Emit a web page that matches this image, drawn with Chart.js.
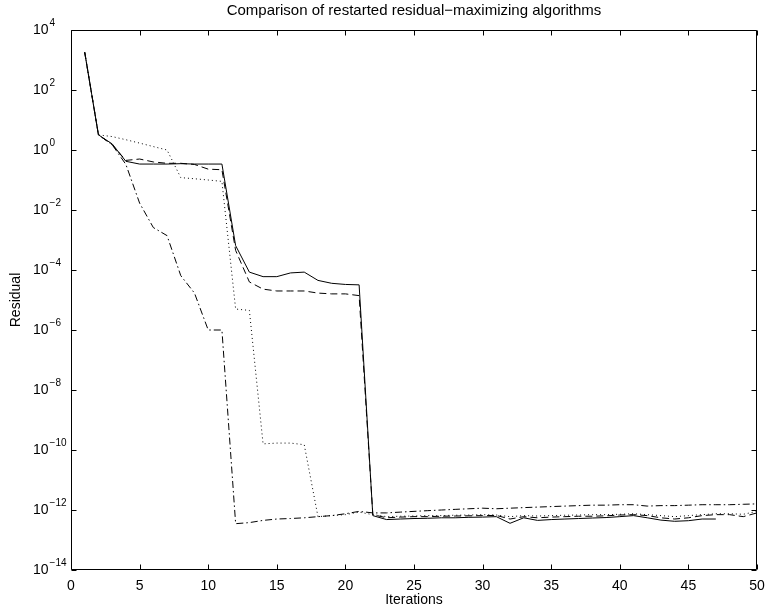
<!DOCTYPE html>
<html>
<head>
<meta charset="utf-8">
<script src="https://cdn.jsdelivr.net/npm/chart.js@4/dist/chart.umd.min.js"></script>
<style>
  html, body { margin: 0; padding: 0; background: #fff; }
  #wrap { width: 765px; height: 610px; position: relative; }
</style>
</head>
<body>
<div id="wrap"><canvas id="c" width="765" height="610"></canvas></div>
<script>
// ---- data ----
const iterations = Array.from({length: 50}, (_, i) => i + 1);

const solidResidual = [
  1800, 3.2, 1.6, 0.42, 0.34, 0.34, 0.34, 0.35, 0.34, 0.34,
  0.34, 6.5e-4, 8.5e-5, 6e-5, 6e-5, 8e-5, 8.5e-5, 4.5e-5, 3.6e-5, 3.3e-5,
  3.2e-5, 6.5e-13, 4.8e-13, 5e-13, 5.2e-13, 5.3e-13, 5.5e-13, 5.5e-13, 5.7e-13, 5.8e-13,
  6e-13, 3.6e-13, 5.5e-13, 4.5e-13, 4.8e-13, 5e-13, 5.2e-13, 5.4e-13, 5.6e-13, 6e-13,
  6.5e-13, 5.5e-13, 4.6e-13, 4.2e-13, 4.4e-13, 5e-13, 5e-13, null, null, null
];
const dashedResidual = [
  1800, 3.2, 1.5, 0.45, 0.5, 0.4, 0.36, 0.36, 0.33, 0.23,
  0.22, 4.5e-4, 4e-5, 2.3e-5, 2e-5, 2e-5, 2e-5, 1.7e-5, 1.6e-5, 1.6e-5,
  1.4e-5, 7e-13, 5.5e-13, 5.8e-13, 6e-13, 6e-13, 6.2e-13, 6.3e-13, 6.4e-13, 6.5e-13,
  6.6e-13, 5e-13, 6e-13, 5.5e-13, 5.8e-13, 6e-13, 6.2e-13, 6.2e-13, 6.4e-13, 6.8e-13,
  7e-13, 6.5e-13, 5.5e-13, 5e-13, 5.5e-13, 6.5e-13, 7e-13, 7e-13, 6e-13, 8e-13
];
const dottedResidual = [
  1800, 3.2, 2.8, 2.2, 1.7, 1.3, 1.0, 0.12, 0.11, 0.1,
  0.09, 5e-6, 4.5e-6, 1.6e-10, 1.7e-10, 1.7e-10, 1.5e-10, 6e-13, 6.5e-13, 7e-13,
  8.5e-13, 7e-13, 6e-13, 6.2e-13, 6.3e-13, 6.5e-13, 6.5e-13, 6.7e-13, 6.8e-13, 7e-13,
  6.8e-13, 6e-13, 6.5e-13, 6.3e-13, 6.5e-13, 6.7e-13, 6.8e-13, 7e-13, 7e-13, 7.2e-13,
  7.5e-13, 7e-13, 6.5e-13, 6e-13, 6.5e-13, 7e-13, 7.5e-13, 7.5e-13, 7.2e-13, 9e-13
];
const dashDotResidual = [
  1800, 3.2, 1.5, 0.33, 0.017, 2.6e-3, 1.4e-3, 6.5e-5, 1.7e-5, 1e-6,
  1e-6, 3.5e-13, 3.8e-13, 4.5e-13, 5e-13, 5.2e-13, 5.5e-13, 6e-13, 6.5e-13, 7.5e-13,
  9e-13, 8e-13, 8e-13, 8.5e-13, 9e-13, 9.5e-13, 1e-12, 1.05e-12, 1.1e-12, 1.15e-12,
  1.1e-12, 1.15e-12, 1.2e-12, 1.25e-12, 1.3e-12, 1.35e-12, 1.4e-12, 1.45e-12, 1.45e-12, 1.5e-12,
  1.5e-12, 1.35e-12, 1.4e-12, 1.4e-12, 1.45e-12, 1.5e-12, 1.5e-12, 1.5e-12, 1.55e-12, 1.6e-12
];

const xTickValues = [0, 5, 10, 15, 20, 25, 30, 35, 40, 45, 50];
const yTickExponents = [4, 2, 0, -2, -4, -6, -8, -10, -12, -14];

const chartTitle = 'Comparison of restarted residual\u2212maximizing algorithms';
const xLabel = 'Iterations';
const yLabel = 'Residual';

// ---- build ----
const FONT = "'Liberation Sans', Arial, Helvetica, sans-serif";
const toPoints = arr => iterations.map((it, i) => ({x: it, y: arr[i]}));

function ds(label, arr, dash) {
  return {
    label, data: toPoints(arr),
    borderColor: '#000', backgroundColor: '#000',
    borderWidth: 1, borderDash: dash, pointRadius: 0,
    tension: 0, fill: false, spanGaps: false
  };
}

const axesPlugin = {
  id: 'matlabAxes',
  afterDraw(chart) {
    const {ctx, chartArea: a, scales: {x, y}} = chart;
    const L = Math.round(a.left) + 0.5, R = Math.round(a.right) - 0.5;
    const T = Math.round(a.top) + 0.5, B = Math.round(a.bottom) - 0.5;
    ctx.save();
    ctx.strokeStyle = '#000';
    ctx.lineWidth = 1;
    ctx.beginPath();
    ctx.rect(L, T, R - L, B - T);
    const tl = 5;
    x.ticks.forEach(t => {
      const px = Math.round(x.getPixelForValue(t.value)) + 0.5;
      ctx.moveTo(px, B); ctx.lineTo(px, B - tl);
      ctx.moveTo(px, T); ctx.lineTo(px, T + tl);
    });
    y.ticks.forEach(t => {
      const py = Math.round(y.getPixelForValue(t.value)) + 0.5;
      ctx.moveTo(L, py); ctx.lineTo(L + tl, py);
      ctx.moveTo(R, py); ctx.lineTo(R - tl, py);
    });
    ctx.stroke();
    // y tick labels 10^k
    ctx.fillStyle = '#000';
    y.ticks.forEach(t => {
      const py = y.getPixelForValue(t.value);
      const e = Math.round(Math.log10(t.value));
      ctx.font = '14px ' + FONT;
      ctx.textAlign = 'left';
      ctx.textBaseline = 'middle';
      const bx = 33;
      ctx.fillText('10', bx, py);
      const w = ctx.measureText('10').width;
      ctx.font = '10px ' + FONT;
      const es = String(e).replace('-', '\u2212');
      ctx.fillText(es, bx + w + 1, py - 7);
    });
    ctx.restore();
  }
};

new Chart(document.getElementById('c'), {
  type: 'line',
  data: {
    datasets: [
      ds('solid', solidResidual, []),
      ds('dashed', dashedResidual, [7, 4]),
      ds('dotted', dottedResidual, [1, 3]),
      ds('dash-dot', dashDotResidual, [7, 3, 1.5, 3])
    ]
  },
  options: {
    responsive: false,
    animation: false,
    devicePixelRatio: 1,
    layout: { padding: { left: 0, right: 8, top: 0, bottom: 0 } },
    plugins: {
      legend: { display: false },
      tooltip: { enabled: false },
      title: {
        display: true, text: chartTitle, color: '#000', fullSize: false,
        font: { family: FONT, size: 15, weight: 'normal' },
        padding: { top: 2, bottom: 10 }
      }
    },
    scales: {
      x: {
        type: 'linear', min: 0, max: 50,
        afterBuildTicks: s => { s.ticks = xTickValues.map(v => ({value: v})); },
        afterFit: s => { s.height = 40; s.paddingLeft = 0; s.paddingRight = 0; },
        grid: { display: false, drawTicks: false },
        border: { display: false },
        ticks: { color: '#000', font: { family: FONT, size: 14 }, padding: 8, maxRotation: 0, autoSkip: false },
        title: { display: true, text: xLabel, color: '#000', font: { family: FONT, size: 14 }, padding: { top: 0, bottom: 1 } }
      },
      y: {
        type: 'logarithmic', min: 1e-14, max: 1e4,
        afterBuildTicks: s => { s.ticks = yTickExponents.map(e => ({value: Math.pow(10, e)})); },
        afterFit: s => { s.width = 71; },
        grid: { display: false, drawTicks: false },
        border: { display: false },
        ticks: { display: false },
        title: { display: true, text: yLabel, color: '#000', font: { family: FONT, size: 14 }, padding: { top: 8, bottom: 0 } }
      }
    }
  },
  plugins: [axesPlugin]
});
</script>
</body>
</html>
